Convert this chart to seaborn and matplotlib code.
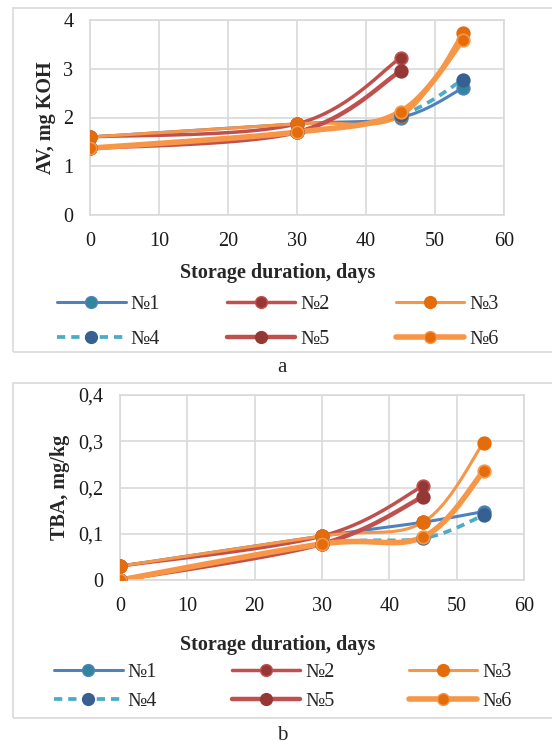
import numpy as np
import matplotlib
matplotlib.use("Agg")
import matplotlib.pyplot as plt
import seaborn as sns
from matplotlib.lines import Line2D
from matplotlib.patches import Rectangle

# data
days = [0, 30, 45, 54]
series_names = ["№1", "№2", "№3", "№4", "№5", "№6"]

av_1 = [1.60, 1.87, 2.00, 2.60]
av_2 = [1.60, 1.87, 3.22]
av_3 = [1.60, 1.87, 2.03, 3.73]
av_4 = [1.37, 1.70, 2.05, 2.77]
av_5 = [1.37, 1.70, 2.95]
av_6 = [1.37, 1.70, 2.12, 3.58]

tba_1 = [0.030, 0.095, 0.125, 0.148]
tba_2 = [0.030, 0.095, 0.203]
tba_3 = [0.030, 0.095, 0.125, 0.297]
tba_4 = [0.000, 0.078, 0.090, 0.140]
tba_5 = [0.000, 0.078, 0.180]
tba_6 = [0.000, 0.078, 0.093, 0.235]

av_all = [av_1, av_2, av_3, av_4, av_5, av_6]
tba_all = [tba_1, tba_2, tba_3, tba_4, tba_5, tba_6]

# styles (line colour, marker face, marker edge, line width, dash)
styles = [
    dict(lc="#4F81BD", mf="#31859C", me="#4F81BD", lw=2.2, ls="-"),
    dict(lc="#C0504D", mf="#953735", me="#C0504D", lw=2.5, ls="-"),
    dict(lc="#F79646", mf="#E46C0A", me="#E46C0A", lw=2.2, ls="-"),
    dict(lc="#4BACC6", mf="#376092", me="#376092", lw=2.7, ls=(0, (2.2, 1.6))),
    dict(lc="#C0504D", mf="#953735", me="#953735", lw=3.2, ls="-"),
    dict(lc="#F79646", mf="#E46C0A", me="#F79646", lw=4.0, ls="-"),
]

sns.set_theme(style="white")
plt.rcParams['font.family'] = ['Liberation Serif', 'DejaVu Serif']
FS = 14.5

W, H = 552, 746
fig = plt.figure(figsize=(W / 100, H / 100), dpi=100)


def smooth(xs, ys, n=40):
    # Excel-like smoothed line (Catmull-Rom as cubic Bezier)
    p = np.column_stack([xs, ys]).astype(float)
    pts = np.vstack([p[0], p, p[-1]])
    out = []
    for i in range(1, len(pts) - 2):
        p0, p1, p2, p3 = pts[i - 1], pts[i], pts[i + 1], pts[i + 2]
        c1 = p1 + (p2 - p0) / 6
        c2 = p2 - (p3 - p1) / 6
        t = np.linspace(0, 1, n)[:, None]
        seg = (1 - t) ** 3 * p1 + 3 * (1 - t) ** 2 * t * c1 + 3 * (1 - t) * t ** 2 * c2 + t ** 3 * p2
        out.append(seg if i == 1 else seg[1:])
    out = np.vstack(out)
    return out[:, 0], out[:, 1]


def fig_box(x0, y0, x1, y1):
    return [x0 / W, 1 - y1 / H, (x1 - x0) / W, (y1 - y0) / H]


def draw_panel(ax, data, ylim, yticks, ytl, ylabel, ylpad, frame, xlab_y,
               leg_x, leg_y, lspace, cspace, letter_y, letter):
    fig.patches.append(Rectangle((frame[0] / W, 1 - frame[3] / H),
                                 (frame[2] - frame[0]) / W, (frame[3] - frame[1]) / H,
                                 transform=fig.transFigure, fill=False,
                                 edgecolor="#D9D9D9", lw=1.2))
    for vals, st in zip(data, styles):
        x = days[:len(vals)]
        sx, sy = smooth(x, vals)
        sns.lineplot(x=sx, y=sy, sort=False, estimator=None, ax=ax,
                     color=st["lc"], lw=st["lw"], linestyle=st["ls"])
        ax.plot(x, vals, "o", ms=9, mfc=st["mf"], mec=st["me"], mew=1.3, zorder=5)
    ax.set_xlim(0, 60)
    ax.set_ylim(*ylim)
    ax.set_xticks(range(0, 61, 10))
    ax.set_yticks(yticks)
    ax.set_yticklabels(ytl)
    ax.grid(True, color="#D9D9D9", lw=1.2)
    for s in ax.spines.values():
        s.set_color("#D9D9D9")
        s.set_linewidth(1.2)
    ax.tick_params(length=0, labelsize=FS, colors="#1a1a1a", pad=12)
    ax.set_ylabel(ylabel, fontsize=FS, fontweight="bold", labelpad=ylpad)
    ax.set_xlabel("")
    fig.text(278 / W, 1 - xlab_y / H, "Storage duration, days",
             ha="center", va="center", fontsize=FS, fontweight="bold")
    handles = [Line2D([], [], color=st["lc"], lw=st["lw"], linestyle=st["ls"],
                      marker="o", ms=8.5, mfc=st["mf"], mec=st["me"])
               for st in styles]
    order = [0, 3, 1, 4, 2, 5]
    fig.legend([handles[i] for i in order], [series_names[i] for i in order],
               loc="center", bbox_to_anchor=(leg_x / W, 1 - leg_y / H),
               ncol=3, frameon=False, fontsize=FS, handlelength=3.4,
               columnspacing=cspace, handletextpad=0.25, labelspacing=lspace)
    fig.text(282 / W, 1 - letter_y / H, letter, ha="center", va="center", fontsize=15)


ax1 = fig.add_axes(fig_box(90, 20, 504, 215))
draw_panel(ax1, av_all, (0, 4), [0, 1, 2, 3, 4], ["0", "1", "2", "3", "4"],
           "AV, mg KOH", 5, (13, 8, 553, 352), 273, 278, 322, 0.75, 3.3, 368, "a")

ax2 = fig.add_axes(fig_box(120, 395, 524, 580))
draw_panel(ax2, tba_all, (0, 0.4), [0, 0.1, 0.2, 0.3, 0.4],
           ["0", "0,1", "0,2", "0,3", "0,4"],
           "TBA, mg/kg", 6, (13, 383, 553, 718), 645, 283, 687, 0.5, 3.7, 735, "b")

fig.savefig("out.png", dpi=100)
